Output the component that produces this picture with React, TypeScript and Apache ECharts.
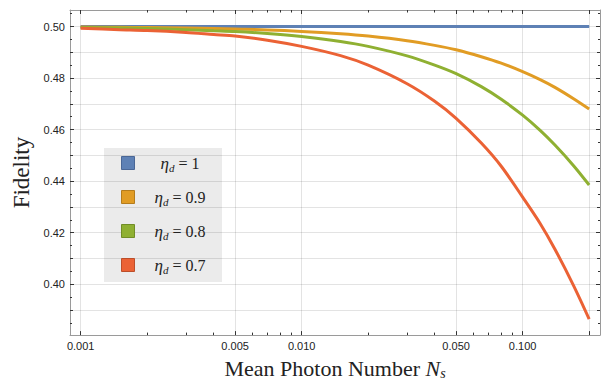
import React, { useEffect, useRef } from "react";
import * as echarts from "echarts";

// ---- data ----
const N_VALUES = [0.001, 0.0015, 0.002, 0.003, 0.004, 0.005, 0.007, 0.01, 0.015, 0.02, 0.03, 0.04, 0.05, 0.065, 0.08, 0.1, 0.12, 0.14, 0.17, 0.2];
const FID_ETA_10 = [0.5, 0.5, 0.5, 0.5, 0.5, 0.5, 0.5, 0.5, 0.5, 0.5, 0.5, 0.5, 0.5, 0.5, 0.5, 0.5, 0.5, 0.5, 0.5, 0.5];
const FID_ETA_09 = [0.4998, 0.4997, 0.4996, 0.4994, 0.4992, 0.499, 0.4987, 0.4981, 0.4972, 0.4963, 0.4945, 0.4927, 0.491, 0.4883, 0.4858, 0.4825, 0.4794, 0.4764, 0.472, 0.468];
const FID_ETA_08 = [0.4996, 0.4994, 0.4992, 0.4988, 0.4984, 0.4981, 0.4973, 0.4961, 0.4942, 0.4923, 0.4886, 0.485, 0.4817, 0.4767, 0.4718, 0.4656, 0.4597, 0.454, 0.446, 0.4385];
const FID_ETA_07 = [0.4993, 0.4988, 0.4985, 0.4977, 0.4969, 0.4963, 0.4947, 0.4923, 0.4887, 0.485, 0.4778, 0.471, 0.4644, 0.4548, 0.4458, 0.4338, 0.4236, 0.4136, 0.3995, 0.3865];
const ETA_LABELS = ["1", "0.9", "0.8", "0.7"];

const X_RANGE = [0.000895, 0.2239];
const Y_RANGE = [0.38027, 0.50642];
const X_LABELS = [0.001, 0.005, 0.01, 0.05, 0.1];
const X_MAJOR_TICKS = [0.001, 0.005, 0.01, 0.05, 0.1, 0.2];
const X_MINOR_TICKS = [0.002, 0.003, 0.004, 0.006, 0.007, 0.008, 0.009, 0.02, 0.03, 0.04, 0.06, 0.07, 0.08, 0.09];
const Y_LABELS = [0.4, 0.42, 0.44, 0.46, 0.48, 0.5];
const Y_MID_TICKS = [0.39, 0.41, 0.43, 0.45, 0.47, 0.49];
const Y_MINOR_TICKS = [0.385, 0.395, 0.405, 0.415, 0.425, 0.435, 0.445, 0.455, 0.465, 0.475, 0.485, 0.495, 0.505];

// ---- styles ----
const COLORS = ["#5e81b5", "#e19c24", "#8fb032", "#eb6235"];
const BORDERS = ["#4a6796", "#b47c1c", "#718d27", "#bc4e2a"];
const SERIF = "'Liberation Serif', 'Times New Roman', serif";
const SANS = "'Liberation Sans', Arial, sans-serif";
const GRID_COLOR = "rgba(0,0,0,0.11)";

const lg = (v: number) => Math.log10(v);

function xAxis(position: string, ticks: number[], len: number, extra: any = {}) {
  return {
    type: "value",
    position,
    min: lg(X_RANGE[0]),
    max: lg(X_RANGE[1]),
    axisLine: { show: false, onZero: false, lineStyle: { color: "#9a9a9a", width: 1 } },
    axisTick: { show: true, inside: true, length: len, customValues: ticks.map(lg), lineStyle: { color: "#333", width: 1 } },
    axisLabel: { show: false },
    splitLine: { show: false },
    ...extra,
  };
}

function yAxis(position: string, ticks: number[], len: number, extra: any = {}) {
  return {
    type: "value",
    position,
    min: Y_RANGE[0],
    max: Y_RANGE[1],
    axisLine: { show: false, onZero: false, lineStyle: { color: "#9a9a9a", width: 1 } },
    axisTick: { show: true, inside: true, length: len, customValues: ticks, lineStyle: { color: "#333", width: 1 } },
    axisLabel: { show: false },
    splitLine: { show: false },
    ...extra,
  };
}

const subRich = {
  it: { fontFamily: SERIF, fontStyle: "italic", fontSize: 22, lineHeight: 24, color: "#222" },
  sub: { fontFamily: SERIF, fontStyle: "italic", fontSize: 14, lineHeight: 14, verticalAlign: "bottom", color: "#222" },
};

export default function App() {
  const ref = useRef<HTMLDivElement>(null);

  useEffect(() => {
    if (!ref.current) return;
    const chart = echarts.init(ref.current, undefined, { renderer: "svg" });

    const seriesData = [FID_ETA_10, FID_ETA_09, FID_ETA_08, FID_ETA_07];

    const legendEls: any[] = [
      {
        type: "rect",
        shape: { x: 104, y: 148, width: 118, height: 134 },
        style: { fill: "#ebebeb" },
        z: -1,
      },
    ];
    const rowY = [163, 197, 231, 265];
    ETA_LABELS.forEach((lab, i) => {
      legendEls.push({
        type: "rect",
        shape: { x: 121.5, y: rowY[i] - 6.5, width: 13, height: 13 },
        style: { fill: COLORS[i], stroke: BORDERS[i], lineWidth: 1 },
        z: 10,
      });
      legendEls.push({
        type: "text",
        x: 180,
        y: rowY[i],
        style: {
          text: `{g|η}{d|d}{e| = ${lab}}`,
          align: "center",
          verticalAlign: "middle",
          rich: {
            g: { fontFamily: SERIF, fontStyle: "italic", fontSize: 17, lineHeight: 20, fill: "#222" },
            d: { fontFamily: SERIF, fontStyle: "italic", fontSize: 11, lineHeight: 11, verticalAlign: "bottom", fill: "#222" },
            e: { fontFamily: SERIF, fontSize: 16, lineHeight: 20, fill: "#222" },
          },
        },
        z: 10,
      });
    });

    const option: any = {
      animation: false,
      backgroundColor: "#ffffff",
      grid: { left: 70, right: 10, top: 10, bottom: 47, containLabel: false },
      xAxis: [
        xAxis("bottom", X_MAJOR_TICKS, 4, {
          axisLine: { show: true, onZero: false, lineStyle: { color: "#9a9a9a", width: 1 } },
          axisLabel: {
            show: true,
            customValues: X_LABELS.map(lg),
            formatter: (v: number) => Math.pow(10, v).toFixed(3),
            fontFamily: SANS,
            fontSize: 11,
            color: "#222",
            margin: 5,
          },
          splitLine: { show: true, lineStyle: { color: GRID_COLOR, width: 1 } },
          name: "Mean Photon Number {it|N}{sub|s}",
          nameLocation: "middle",
          nameGap: 19,
          nameTextStyle: { fontFamily: SERIF, fontSize: 22, lineHeight: 24, color: "#222", rich: subRich },
        }),
        xAxis("bottom", X_MINOR_TICKS, 2.5),
        xAxis("top", X_MAJOR_TICKS, 4, {
          axisLine: { show: true, onZero: false, lineStyle: { color: "#9a9a9a", width: 1 } },
        }),
        xAxis("top", X_MINOR_TICKS, 2.5),
      ],
      yAxis: [
        yAxis("left", Y_LABELS, 4, {
          axisLine: { show: true, onZero: false, lineStyle: { color: "#9a9a9a", width: 1 } },
          axisLabel: {
            show: true,
            customValues: Y_LABELS,
            formatter: (v: number) => v.toFixed(2),
            fontFamily: SANS,
            fontSize: 11,
            color: "#222",
            margin: 5,
          },
          splitLine: { show: true, lineStyle: { color: GRID_COLOR, width: 1 } },
          name: "Fidelity",
          nameLocation: "middle",
          nameRotate: 90,
          nameGap: 30,
          nameTextStyle: { fontFamily: SERIF, fontSize: 23, lineHeight: 23, color: "#222" },
        }),
        yAxis("left", Y_MID_TICKS, 3, {
          splitLine: { show: true, lineStyle: { color: GRID_COLOR, width: 1 } },
        }),
        yAxis("left", Y_MINOR_TICKS, 2),
        yAxis("right", Y_LABELS, 4, {
          axisLine: { show: true, onZero: false, lineStyle: { color: "#9a9a9a", width: 1 } },
        }),
        yAxis("right", Y_MID_TICKS, 3),
        yAxis("right", Y_MINOR_TICKS, 2),
      ],
      series: seriesData.map((arr, i) => ({
        type: "line",
        name: `eta_d = ${ETA_LABELS[i]}`,
        xAxisIndex: 0,
        yAxisIndex: 0,
        data: N_VALUES.map((n, j) => [lg(n), arr[j]]),
        showSymbol: false,
        smooth: 0.3,
        lineStyle: { color: COLORS[i], width: 3 },
        itemStyle: { color: COLORS[i] },
        z: 3 + i,
      })),
      graphic: { elements: legendEls },
    };

    chart.setOption(option);
    return () => chart.dispose();
  }, []);

  return (
    <div
      ref={ref}
      style={{ position: "absolute", left: 0, top: 0, width: 610, height: 385 }}
    />
  );
}
